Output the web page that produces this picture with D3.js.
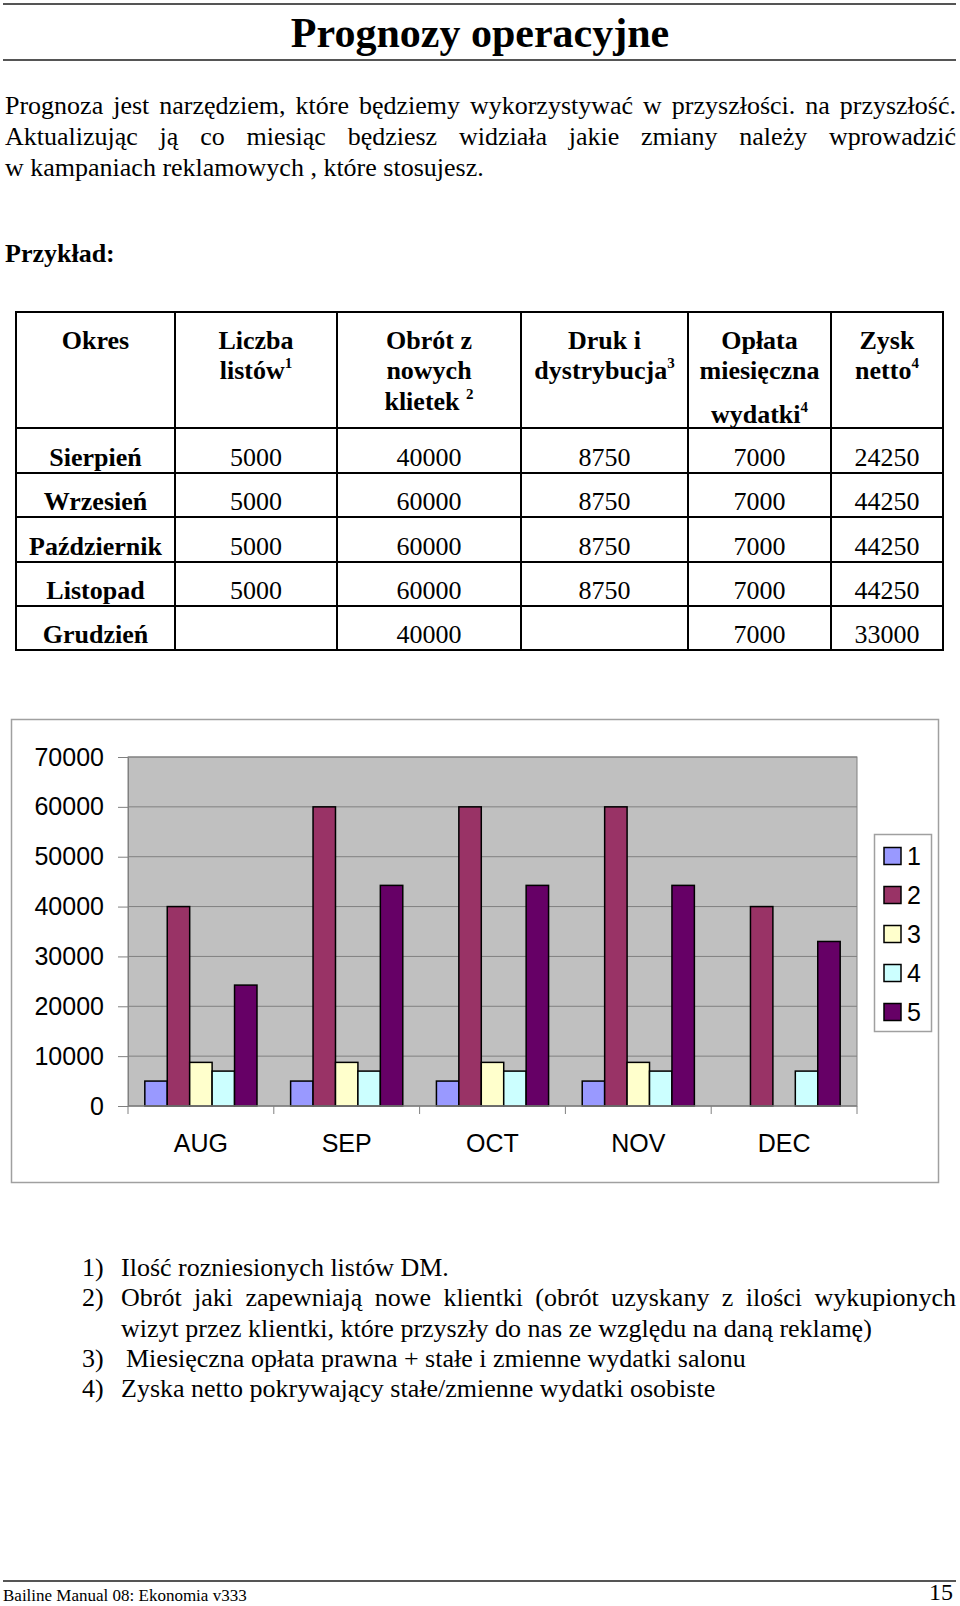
<!DOCTYPE html>
<html>
<head>
<meta charset="utf-8">
<script src="https://cdn.jsdelivr.net/npm/d3@7"></script>
<style>
  html, body { margin: 0; padding: 0; background: #fff; }
  svg { display: block; }
  .serif { font-family: 'Liberation Serif', 'Times New Roman', serif; }
  .sans { font-family: 'Liberation Sans', Arial, sans-serif; }
</style>
</head>
<body>
<div id="page"></div>
<script>
// table / chart data
const months = ['Sierpień', 'Wrzesień', 'Październik', 'Listopad', 'Grudzień'];
const categories = ['AUG', 'SEP', 'OCT', 'NOV', 'DEC'];
const seriesNames = ['1', '2', '3', '4', '5'];
const liczbaListow = [5000, 5000, 5000, 5000, null];
const obrot = [40000, 60000, 60000, 60000, 40000];
const druk = [8750, 8750, 8750, 8750, null];
const oplata = [7000, 7000, 7000, 7000, 7000];
const zysk = [24250, 44250, 44250, 44250, 33000];
const yTicks = [0, 10000, 20000, 30000, 40000, 50000, 60000, 70000];
const seriesColors = ['#9999ff', '#993366', '#ffffcc', '#ccffff', '#660066'];

const paragraph = [
    'Prognoza jest narzędziem, które będziemy wykorzystywać w przyszłości. na przyszłość.',
    'Aktualizując ją co miesiąc będziesz widziała jakie zmiany należy wprowadzić',
    'w kampaniach reklamowych , które stosujesz.'
];
const footnotes = [
    ['1)', 'Ilość rozniesionych listów DM.', false],
    ['2)', 'Obrót jaki zapewniają nowe klientki (obrót uzyskany z ilości wykupionych', true],
    ['', 'wizyt przez klientki, które przyszły do nas ze względu na daną reklamę)', false],
    ['3)', 'Miesięczna opłata prawna + stałe i zmienne wydatki salonu', false],
    ['4)', 'Zyska netto pokrywający stałe/zmienne wydatki osobiste', false]
];

const W = 960, H = 1606;
const svg = d3.select('#page').append('svg')
    .attr('width', W)
    .attr('height', H);

//draw a line of words stretched between x0 and x1
function justifyLine(g, text, x0, x1, y, size) {
    const words = text.split(' ');
    const nodes = words.map(w => g.append('text')
        .attr('class', 'serif')
        .attr('font-size', size)
        .attr('y', y)
        .text(w));
    const widths = nodes.map(n => n.node().getComputedTextLength());
    const gap = (x1 - x0 - d3.sum(widths)) / (words.length - 1);
    let x = x0;
    nodes.forEach((n, i) => {
        n.attr('x', x);
        x += widths[i] + gap;
    });
}

// header rules + title
svg.append('line').attr('x1', 3).attr('x2', 956).attr('y1', 4).attr('y2', 4)
    .attr('stroke', '#555').attr('stroke-width', 2);
svg.append('line').attr('x1', 3).attr('x2', 956).attr('y1', 60).attr('y2', 60)
    .attr('stroke', '#555').attr('stroke-width', 2);
svg.append('text').attr('class', 'serif')
    .attr('x', 480).attr('y', 47)
    .attr('text-anchor', 'middle')
    .attr('font-size', 42).attr('font-weight', 'bold')
    .text('Prognozy operacyjne');

// intro paragraph
const para = svg.append('g');
paragraph.forEach((line, i) => {
    const y = 114 + i * 31;
    if (i < 2) justifyLine(para, line, 5, 956, y, 26);
    else para.append('text').attr('class', 'serif').attr('font-size', 26)
        .attr('x', 5).attr('y', y).text(line);
});

svg.append('text').attr('class', 'serif')
    .attr('x', 5).attr('y', 262)
    .attr('font-size', 26).attr('font-weight', 'bold')
    .text('Przykład:');

// table
const colX = [16, 175, 337, 521, 688, 831, 943];
const rowY = [312, 428, 473, 517, 562, 606, 650];
const table = svg.append('g');

table.selectAll('line.v').data(colX).join('line')
    .attr('class', 'v')
    .attr('x1', d => d).attr('x2', d => d)
    .attr('y1', rowY[0]).attr('y2', rowY[rowY.length - 1])
    .attr('stroke', '#000').attr('stroke-width', 2);
table.selectAll('line.h').data(rowY).join('line')
    .attr('class', 'h')
    .attr('x1', colX[0] - 1).attr('x2', colX[colX.length - 1] + 1)
    .attr('y1', d => d).attr('y2', d => d)
    .attr('stroke', '#000').attr('stroke-width', 2);

const headers = [
    [['Okres']],
    [['Liczba'], ['listów', '1']],
    [['Obrót z'], ['nowych'], ['klietek ', '2']],
    [['Druk i'], ['dystrybucja', '3']],
    [['Opłata'], ['miesięczna'], ['wydatki', '4']],
    [['Zysk'], ['netto', '4']]
];
const headerY = [349, 379, 410];
headers.forEach((lines, c) => {
    const cx = (colX[c] + colX[c + 1]) / 2;
    lines.forEach((ln, i) => {
        let y = headerY[i];
        if (c === 4 && i === 2) y = 423;
        const t = table.append('text').attr('class', 'serif')
            .attr('x', cx).attr('y', y)
            .attr('text-anchor', 'middle')
            .attr('font-size', 26).attr('font-weight', 'bold');
        t.append('tspan').text(ln[0]);
        if (ln[1]) {
            t.append('tspan').attr('font-size', 15).attr('dy', -11).text(ln[1]);
        }
    });
});

const columns = [liczbaListow, obrot, druk, oplata, zysk];
months.forEach((m, r) => {
    const y = (rowY[r + 1] + rowY[r + 2]) / 2 + 15;
    table.append('text').attr('class', 'serif')
        .attr('x', (colX[0] + colX[1]) / 2).attr('y', y)
        .attr('text-anchor', 'middle')
        .attr('font-size', 26).attr('font-weight', 'bold')
        .text(m);
    columns.forEach((col, c) => {
        if (col[r] == null) return;
        table.append('text').attr('class', 'serif')
            .attr('x', (colX[c + 1] + colX[c + 2]) / 2).attr('y', y)
            .attr('text-anchor', 'middle')
            .attr('font-size', 26)
            .text(col[r]);
    });
});

// bar chart
const chart = svg.append('g').attr('class', 'sans');
chart.append('rect')
    .attr('x', 11.5).attr('y', 719.5).attr('width', 927).attr('height', 463)
    .attr('fill', '#fff').attr('stroke', '#a0a0a0').attr('stroke-width', 1.5);

const plot = { left: 128, right: 857, top: 757, bottom: 1106 };
const x0 = d3.scaleBand().domain(categories).range([plot.left, plot.right]);
const x1 = d3.scaleBand().domain(seriesNames).range([0, x0.bandwidth()])
    .paddingInner(0).paddingOuter(0.75);
const y = d3.scaleLinear().domain([0, 70000]).range([plot.bottom, plot.top]);

chart.append('rect')
    .attr('x', plot.left).attr('y', plot.top)
    .attr('width', plot.right - plot.left).attr('height', plot.bottom - plot.top)
    .attr('fill', '#c0c0c0').attr('stroke', '#808080').attr('stroke-width', 1);

chart.selectAll('line.grid').data(yTicks.slice(1)).join('line')
    .attr('class', 'grid')
    .attr('x1', plot.left).attr('x2', plot.right)
    .attr('y1', d => y(d)).attr('y2', d => y(d))
    .attr('stroke', '#808080').attr('stroke-width', 1);

const seriesData = [liczbaListow, obrot, druk, oplata, zysk];
const bars = [];
seriesData.forEach((vals, s) => {
    vals.forEach((v, i) => {
        if (v == null) return;
        bars.push({ cat: categories[i], s: seriesNames[s], color: seriesColors[s], v: v });
    });
});
chart.selectAll('rect.bar').data(bars).join('rect')
    .attr('class', 'bar')
    .attr('x', d => x0(d.cat) + x1(d.s))
    .attr('width', x1.bandwidth())
    .attr('y', d => y(d.v))
    .attr('height', d => y(0) - y(d.v))
    .attr('fill', d => d.color)
    .attr('stroke', '#000').attr('stroke-width', 1.5);

const yAxis = chart.append('g')
    .attr('transform', `translate(${plot.left},0)`)
    .call(d3.axisLeft(y).tickValues(yTicks).tickFormat(d3.format('d'))
        .tickSize(10).tickPadding(14).tickSizeOuter(0));
yAxis.select('.domain').attr('stroke', '#808080');
yAxis.selectAll('.tick line').attr('stroke', '#808080');
yAxis.selectAll('.tick text')
    .attr('font-family', 'Liberation Sans, Arial, sans-serif')
    .attr('font-size', 25).attr('fill', '#000');

// x axis: baseline, boundary ticks, labels
chart.append('line')
    .attr('x1', plot.left).attr('x2', plot.right)
    .attr('y1', plot.bottom).attr('y2', plot.bottom)
    .attr('stroke', '#808080').attr('stroke-width', 1.5);
const bounds = categories.map(c => x0(c)).concat([plot.right]);
chart.selectAll('line.xtick').data(bounds).join('line')
    .attr('class', 'xtick')
    .attr('x1', d => d).attr('x2', d => d)
    .attr('y1', plot.bottom).attr('y2', plot.bottom + 8)
    .attr('stroke', '#808080');
chart.selectAll('text.xlab').data(categories).join('text')
    .attr('class', 'xlab')
    .attr('x', d => x0(d) + x0.bandwidth() / 2)
    .attr('y', 1152)
    .attr('text-anchor', 'middle')
    .attr('font-size', 25)
    .text(d => d);

// legend
const legend = chart.append('g');
legend.append('rect')
    .attr('x', 874.5).attr('y', 834.5).attr('width', 57).attr('height', 197)
    .attr('fill', '#fff').attr('stroke', '#a0a0a0').attr('stroke-width', 1.5);
const legY = d3.scalePoint().domain(seriesNames).range([856, 1012]);
legend.selectAll('rect.key').data(seriesNames).join('rect')
    .attr('class', 'key')
    .attr('x', 884).attr('y', d => legY(d) - 8.5)
    .attr('width', 17).attr('height', 17)
    .attr('fill', (d, i) => seriesColors[i])
    .attr('stroke', '#000').attr('stroke-width', 1.5);
legend.selectAll('text.lab').data(seriesNames).join('text')
    .attr('class', 'lab')
    .attr('x', 907).attr('y', d => legY(d) + 9)
    .attr('font-size', 25)
    .text(d => d);

// footnotes
const notes = svg.append('g');
footnotes.forEach((f, i) => {
    const yy = 1276 + i * 30.3;
    if (f[0]) notes.append('text').attr('class', 'serif').attr('font-size', 26)
        .attr('x', 82).attr('y', yy).text(f[0]);
    const tx = f[0] === '3)' ? 126 : 121;
    if (f[2]) justifyLine(notes, f[1], tx, 956, yy, 26);
    else notes.append('text').attr('class', 'serif').attr('font-size', 26)
        .attr('x', tx).attr('y', yy).text(f[1]);
});

// footer
svg.append('line').attr('x1', 3).attr('x2', 956).attr('y1', 1581).attr('y2', 1581)
    .attr('stroke', '#555').attr('stroke-width', 2);
svg.append('text').attr('class', 'serif')
    .attr('x', 3).attr('y', 1601).attr('font-size', 17)
    .text('Bailine Manual 08: Ekonomia v333');
svg.append('text').attr('class', 'serif')
    .attr('x', 953).attr('y', 1600).attr('text-anchor', 'end').attr('font-size', 24)
    .text('15');
</script>
</body>
</html>
